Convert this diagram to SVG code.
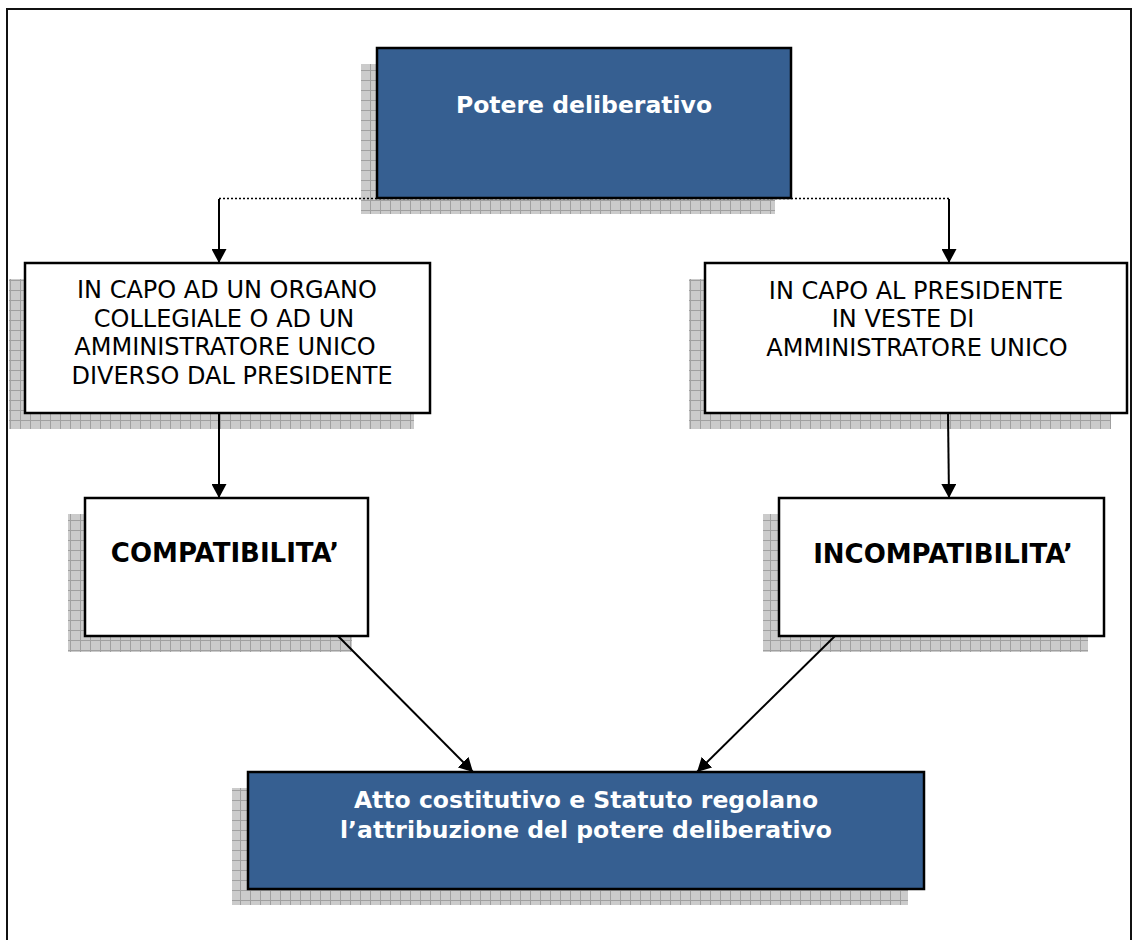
<svg xmlns="http://www.w3.org/2000/svg" width="1133" height="940" viewBox="0 0 1133 940">
<defs>
<pattern id="grid" width="10" height="10" patternUnits="userSpaceOnUse">
<rect width="10" height="10" fill="#cbcbcb"/>
<path d="M0,0.5H10M0.5,0V10" stroke="#a0a0a0" stroke-width="1"/>
</pattern>
<marker id="ah" markerUnits="userSpaceOnUse" markerWidth="14" markerHeight="15" viewBox="0 0 14 15" refX="14" refY="7.5" orient="auto">
<path d="M0,0 L14,7.5 L0,15 z" fill="#000"/>
</marker>
<style>
.sh{fill:url(#grid);}
.blue{fill:#365F91;stroke:#000;stroke-width:2.5;}
.white{fill:#fff;stroke:#000;stroke-width:2.5;}
.t{font-family:"DejaVu Sans","Verdana",sans-serif;font-size:24px;fill:#000;text-anchor:middle;}
.tb{font-family:"DejaVu Sans","Verdana",sans-serif;font-weight:bold;font-size:26px;fill:#000;text-anchor:middle;}
.tw{font-family:"DejaVu Sans","Verdana",sans-serif;font-weight:bold;font-size:23.5px;fill:#fff;text-anchor:middle;}
.ln{stroke:#000;stroke-width:2;fill:none;marker-end:url(#ah);}
.dot{stroke:#000;stroke-width:1.5;stroke-dasharray:2,2;fill:none;}
</style>
</defs>
<rect width="1133" height="940" fill="#fff"/>
<path d="M7,940 V9 H1131 V940" fill="none" stroke="#111" stroke-width="2"/>

<g id="potere">
<rect class="sh" x="361" y="64" width="414" height="150"/>
<rect class="blue" x="377" y="48" width="414" height="150"/>
<text class="tw" x="584" y="113">Potere deliberativo</text>
</g>

<g id="organo">
<rect class="sh" x="9" y="279" width="405" height="150"/>
<rect class="white" x="25" y="263" width="405" height="150"/>
<text class="t" x="227" y="298">IN CAPO AD UN ORGANO</text>
<text class="t" x="224" y="327">COLLEGIALE O AD UN</text>
<text class="t" x="225" y="355">AMMINISTRATORE UNICO</text>
<text class="t" x="232" y="384">DIVERSO DAL PRESIDENTE</text>
</g>

<g id="presidente">
<rect class="sh" x="689" y="279" width="422" height="150"/>
<rect class="white" x="705" y="263" width="422" height="150"/>
<text class="t" x="916" y="299">IN CAPO AL PRESIDENTE</text>
<text class="t" x="903" y="327">IN VESTE DI</text>
<text class="t" x="917" y="356">AMMINISTRATORE UNICO</text>
</g>

<g id="compatibilita">
<rect class="sh" x="68" y="514" width="284" height="138"/>
<rect class="white" x="85" y="498" width="283" height="138"/>
<text class="tb" x="225" y="562">COMPATIBILITA’</text>
</g>

<g id="incompatibilita">
<rect class="sh" x="763" y="514" width="325" height="138"/>
<rect class="white" x="779" y="498" width="325" height="138"/>
<text class="tb" x="943" y="563">INCOMPATIBILITA’</text>
</g>

<g id="atto">
<rect class="sh" x="232" y="788" width="676" height="117"/>
<rect class="blue" x="248" y="772" width="676" height="117"/>
<text class="tw" x="586" y="808">Atto costitutivo e Statuto regolano</text>
<text class="tw" x="586" y="838">l’attribuzione del potere deliberativo</text>
</g>

<g id="connectors">
<path class="dot" d="M219,198.5 H949"/>
<path class="ln" d="M219,199 V263"/>
<path class="ln" d="M949,199 V263"/>
<path class="ln" d="M219,413 V498"/>
<path class="ln" d="M948,413 L949,498"/>
<path class="ln" d="M338,636 L473,772"/>
<path class="ln" d="M835,636 L697,772"/>
</g>
</svg>
